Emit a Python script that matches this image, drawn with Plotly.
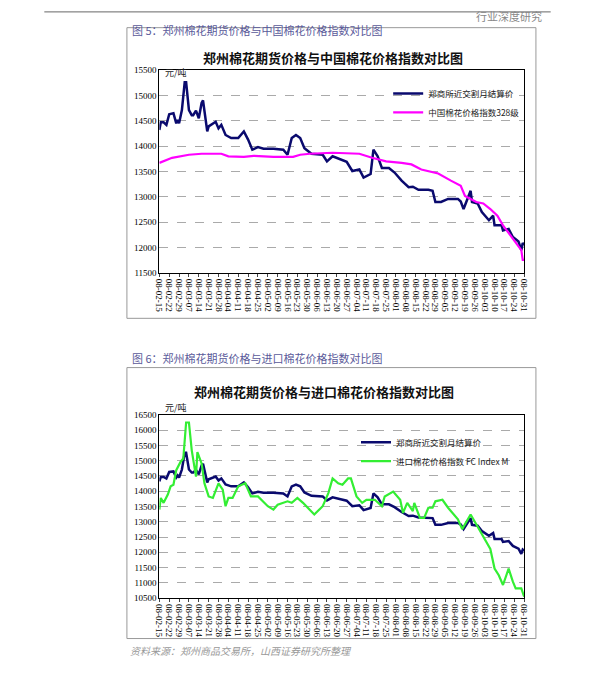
import plotly.graph_objects as go
import pandas as pd

base = pd.Timestamp("2008-02-15")
zz_days = [0,1,3,5,7,9,10,12,13,14,16,18,19,21,23,24,26,28,30,31,33,34,35,40,42,44,47,51,56,60,63,66,70,74,81,88,91,94,97,100,103,108,116,119,123,128,133,137,142,145,149,150,152,155,158,163,167,172,177,180,184,191,194,196,200,205,212,214,216,221,222,226,229,234,237,238,243,244,248,251,255,257,258,259]
zz_vals = [14320,14470,14470,14420,14630,14650,14650,14450,14515,14450,14710,15260,15260,14710,14610,14610,14700,14550,14850,14900,14480,14290,14390,14480,14350,14420,14220,14160,14160,14290,14130,13930,13980,13950,13950,13930,13830,14160,14220,14160,13960,13850,13830,13700,13800,13740,13690,13510,13540,13380,13440,13450,13930,13800,13570,13570,13480,13320,13190,13200,13140,13140,13120,12900,12900,12960,12960,12910,12760,13120,12900,12870,12700,12540,12630,12440,12440,12340,12370,12210,12120,11950,12090,12050]
cn_days = [0,9,21,30,44,49,60,67,81,95,100,107,123,142,151,161,172,179,186,198,207,214,217,225,230,235,240,244,249,253,257,258,259]
cn_vals = [13670,13770,13830,13850,13850,13800,13790,13810,13790,13790,13830,13850,13870,13850,13770,13700,13670,13640,13540,13460,13320,13220,13020,12900,12870,12760,12630,12440,12250,12090,11950,11760,11760]
fc_days = [0,1,3,6,8,10,12,15,17,19,21,23,26,27,30,32,35,38,42,45,47,49,52,56,61,65,70,77,81,84,91,94,98,102,110,116,120,123,127,130,134,136,140,144,147,153,158,160,166,171,173,176,180,181,185,188,191,194,196,201,205,212,215,221,225,230,235,238,241,244,248,251,253,257,259]
fc_vals = [13400,13780,13620,13890,14160,14210,14690,14960,15070,16250,16250,15340,14480,15280,14910,14260,13830,13780,14260,14050,13510,13780,13780,14160,14260,13830,13830,13510,13400,13560,13670,13620,13780,13620,13240,13510,13940,14420,14260,14210,14420,14420,13830,13620,13720,13720,13510,13830,13990,13720,13290,13620,13350,13620,13130,13130,13460,13460,13670,13720,13460,13080,12760,13240,12920,12490,12110,11470,11250,10930,11470,11040,10820,10820,10550]
tick_dates = pd.date_range("2008-02-15", "2008-10-31", freq="7D")

to_dates = lambda d: [base + pd.Timedelta(days=x) for x in d]
BLUE, PINK, GREEN = "#0a0a6e", "#ff00ff", "#33ee33"
fig = go.Figure()
fig.add_trace(go.Scatter(x=to_dates(zz_days), y=zz_vals, mode="lines", line=dict(color=BLUE, width=2.5), name="郑商所近交割月结算价", xaxis="x", yaxis="y", legend="legend"))
fig.add_trace(go.Scatter(x=to_dates(cn_days), y=cn_vals, mode="lines", line=dict(color=PINK, width=2.2), name="中国棉花价格指数328级", xaxis="x", yaxis="y", legend="legend"))
fig.add_trace(go.Scatter(x=to_dates(zz_days), y=zz_vals, mode="lines", line=dict(color=BLUE, width=2.5), name="郑商所近交割月结算价", xaxis="x2", yaxis="y2", legend="legend2"))
fig.add_trace(go.Scatter(x=to_dates(fc_days), y=fc_vals, mode="lines", line=dict(color=GREEN, width=2.2), name="进口棉花价格指数 FC Index M", xaxis="x2", yaxis="y2", legend="legend2"))

tf = dict(family="Liberation Serif", size=9, color="#000")
xcommon = dict(type="date", range=[base, base + pd.Timedelta(days=259)], tickvals=list(tick_dates), tickformat="%y-%m-%d",
               tickangle=90, tickfont=tf, showgrid=False, showline=True, linecolor="#000", mirror=True, ticks="outside", ticklen=3)
ycommon = dict(dtick=500, tickfont=tf, showgrid=True, gridcolor="#aaa", griddash="dash", showline=True, linecolor="#000", mirror=True, tickformat="d", zeroline=False)
dom_x = [157/595, 528/595]
lf = dict(family="Noto Sans CJK SC", size=8.5, color="#222")
fig.update_layout(
    width=595, height=680, margin=dict(l=0, r=0, t=0, b=0), paper_bgcolor="white", plot_bgcolor="white",
    showlegend=True,
    xaxis=dict(domain=dom_x, anchor="y", **xcommon),
    yaxis=dict(domain=[1-272/680, 1-66/680], range=[11500, 15500], anchor="x", **ycommon),
    xaxis2=dict(domain=dom_x, anchor="y2", **xcommon),
    yaxis2=dict(domain=[1-602/680, 1-416/680], range=[10500, 16500], anchor="x2", **ycommon),
    legend=dict(x=0.655, y=1-75/680, xanchor="left", yanchor="top", bgcolor="rgba(0,0,0,0)", font=lf, tracegroupgap=2),
    legend2=dict(x=0.6, y=1-429/680, xanchor="left", yanchor="top", bgcolor="rgba(0,0,0,0)", font=lf, tracegroupgap=2),
)
shapes = [
    dict(type="rect", xref="paper", yref="paper", x0=124/595, x1=540/595, y0=1-318/680, y1=1-23/680, line=dict(color="#999", width=1)),
    dict(type="rect", xref="paper", yref="paper", x0=124/595, x1=540/595, y0=1-643/680, y1=1-368/680, line=dict(color="#999", width=1)),
    dict(type="line", xref="paper", yref="paper", x0=40/595, x1=555/595, y0=1-7/680, y1=1-7/680, line=dict(color="#666", width=1)),
]
fig.update_layout(shapes=shapes)
ann = [
    dict(text="行业深度研究", x=548/595, y=1-1/680, xanchor="right", yanchor="top", font=dict(size=11, color="#888", family="Noto Sans CJK SC")),
    dict(text="图 5：郑州棉花期货价格与中国棉花价格指数对比图", x=127/595, y=1-15/680, xanchor="left", font=dict(size=11, color="#5a5a9a", family="Noto Sans CJK SC")),
    dict(text="<b>郑州棉花期货价格与中国棉花价格指数对比图</b>", x=0.56, y=1-42/680, xanchor="center", font=dict(size=13, color="#111", family="Noto Sans CJK SC")),
    dict(text="元/吨", x=161/595, y=1-60/680, xanchor="left", font=dict(size=9, color="#222", family="Noto Sans CJK SC")),
    dict(text="图 6：郑州棉花期货价格与进口棉花价格指数对比图", x=127/595, y=1-358/680, xanchor="left", font=dict(size=11, color="#5a5a9a", family="Noto Sans CJK SC")),
    dict(text="<b>郑州棉花期货价格与进口棉花价格指数对比图</b>", x=0.545, y=1-392/680, xanchor="center", font=dict(size=13, color="#111", family="Noto Sans CJK SC")),
    dict(text="元/吨", x=161/595, y=1-409/680, xanchor="left", font=dict(size=9, color="#222", family="Noto Sans CJK SC")),
    dict(text="<i>资料来源：郑州商品交易所，山西证券研究所整理</i>", x=125/595, y=1-665/680, xanchor="left", font=dict(size=10, color="#999", family="Noto Sans CJK SC")),
]
for a in ann:
    a.update(xref="paper", yref="paper", showarrow=False)
fig.update_layout(annotations=ann)
fig.write_html("out.html", config={"displayModeBar": False},
               post_script="document.body.style.margin='0';document.body.style.overflow='hidden';")
